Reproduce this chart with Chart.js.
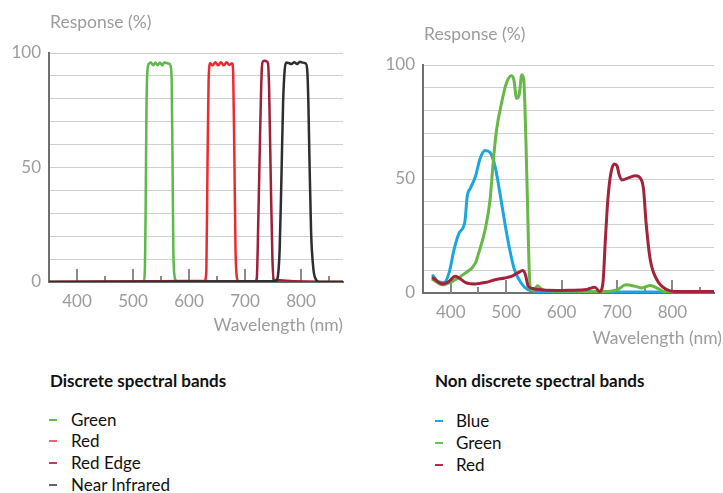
<!DOCTYPE html>
<html>
<head>
<meta charset="utf-8">
<script src="https://cdn.jsdelivr.net/npm/chart.js@4.4.1/dist/chart.umd.min.js"></script>
<style>
  html, body { margin: 0; padding: 0; background: #fff; }
  body { width: 723px; height: 493px; position: relative; overflow: hidden; font-family: Lato, "Open Sans", sans-serif; }
  canvas { position: absolute; top: 0; }
  #c1 { left: 0; }
  #c2 { left: 360px; }
  .axt { position: absolute; font-size: 17.5px; line-height: 20px; color: #9c9c9c; white-space: nowrap; }
  .lg { position: absolute; font-size: 17px; line-height: 20px; color: #111; white-space: nowrap; }
  .lgt { position: absolute; font-size: 17px; line-height: 20px; color: #111; font-weight: bold; white-space: nowrap; }
  .dash { position: absolute; width: 8px; height: 2px; }
</style>
</head>
<body>
<canvas id="c1" width="360" height="340"></canvas>
<canvas id="c2" width="363" height="350"></canvas>

<div class="axt" style="left:50px;top:12px;">Response (%)</div>
<div class="axt" style="left:424px;top:24px;">Response (%)</div>
<div class="axt" style="right:380px;top:315px;">Wavelength (nm)</div>
<div class="axt" style="right:1px;top:328px;">Wavelength (nm)</div>

<div class="lgt" style="left:50px;top:371px;">Discrete spectral bands</div>
<div class="dash" style="left:49px;top:419px;background:#5cbf4a;"></div>
<div class="lg" style="left:71px;top:410px;">Green</div>
<div class="dash" style="left:49px;top:440px;background:#f2646c;"></div>
<div class="lg" style="left:71px;top:431px;">Red</div>
<div class="dash" style="left:49px;top:462px;background:#b8405a;"></div>
<div class="lg" style="left:71px;top:453px;">Red Edge</div>
<div class="dash" style="left:49px;top:484px;background:#666;"></div>
<div class="lg" style="left:71px;top:475px;">Near Infrared</div>

<div class="lgt" style="left:435px;top:371px;">Non discrete spectral bands</div>
<div class="dash" style="left:435px;top:420px;background:#1aa6de;"></div>
<div class="lg" style="left:456px;top:411px;">Blue</div>
<div class="dash" style="left:435px;top:442px;background:#6cc155;"></div>
<div class="lg" style="left:456px;top:433px;">Green</div>
<div class="dash" style="left:435px;top:464px;background:#b03048;"></div>
<div class="lg" style="left:456px;top:455px;">Red</div>

<script>
// ---------- data ----------
const xTickLabels = [400, 500, 600, 700, 800];
const xMinorTicks = [450, 550, 650, 750, 850];
const yTickLabels = [0, 50, 100];

// Discrete bands (left)
const discGreenX = [350, 515, 519, 521, 522.5, 524, 526, 529, 532, 536, 540, 544, 548, 552, 556, 560, 564, 567, 569, 570.5, 572, 574, 577, 580, 875];
const discGreenY = [0, 0, 0.5, 4, 30, 75, 93, 95.5, 95.8, 94.6, 95.8, 94.6, 95.8, 94.6, 95.9, 95.6, 95.4, 94.5, 88, 55, 15, 3, 0.5, 0, 0];

const discRedX = [350, 628, 631, 633, 635, 638, 642, 647, 652, 657, 662, 667, 672, 677, 679, 681, 683, 685, 688, 875];
const discRedY = [0, 0.5, 5, 50, 88, 95.5, 94.6, 96, 94.6, 96, 94.6, 96, 94.8, 95.5, 90, 55, 15, 3, 0.3, 0];

const redEdgeX = [350, 718, 721, 724, 727, 730, 732, 735, 738, 741, 743, 746, 749, 751, 875];
const redEdgeY = [0, 0.3, 1.5, 30, 65, 93, 96.3, 96.6, 96.4, 95.5, 85, 45, 10, 1, 0];

const nirX = [350, 755, 759, 762, 765, 768, 771, 774, 778, 783, 788, 793, 798, 803, 808, 811, 813, 815, 818, 822, 827, 833, 875];
const nirY = [0, 0.3, 3, 15, 45, 78, 93, 95.8, 95.6, 95.2, 96, 95.2, 96.2, 95.8, 95.5, 93, 80, 55, 22, 6, 1, 0, 0];

// Non discrete bands (right)
const blueX = [368, 377, 388, 397, 406, 415, 425.6, 429.7, 435.6, 444.5, 453, 462, 471, 480, 488.8, 497.6, 506.5, 515, 527, 539, 555, 580, 620, 680, 740, 800];
const blueY = [7.6, 5, 4.6, 8.8, 19, 26.3, 31.4, 42.3, 46, 51, 59, 62.5, 61.6, 55.5, 43.8, 30.7, 19, 10.2, 4.4, 1.5, 0.8, 0.5, 0.4, 0.4, 0.4, 0.4];

const greenX = [368, 385.4, 403, 426.8, 444.5, 450.4, 462, 471, 477, 482.7, 491.6, 500.4, 509.3, 514, 518.8, 523.5, 528.2, 531.8, 535.8, 538.8, 541.8, 544.7, 550, 556.5, 565, 574, 620, 674, 701, 715.8, 733.5, 745, 760, 775, 786.5, 820, 875];
const greenY = [5.8, 3.6, 5.1, 8.8, 13.1, 17.5, 27.7, 40.9, 58.4, 71.5, 83.2, 92, 95.3, 93.4, 85.4, 86.9, 95.7, 93.4, 65.7, 36.5, 8.8, 1.5, 1.2, 3.2, 1.5, 1.0, 0.8, 0.6, 1.5, 3.6, 2.9, 2.2, 3.3, 1.8, 0.4, 0.3, 0.3];

const redX = [368, 385.4, 397, 408, 415, 427, 444.5, 462, 480, 497.6, 509.3, 521, 530, 534.8, 540, 550.7, 592, 615.6, 645, 660, 668.6, 674.6, 679, 683.5, 689, 695, 700, 704, 708.8, 721.7, 733.5, 744, 748, 752.5, 760, 772, 789.6, 804, 875];
const redY = [6.6, 3.9, 5.1, 7.3, 6.6, 4.6, 4, 4.6, 5.8, 6.6, 7.3, 8.8, 9.9, 8, 2.9, 1.8, 1.1, 1.2, 1.5, 2.5, 0.7, 4.4, 23.3, 41, 52.6, 56.6, 55.8, 51.8, 49.6, 50.6, 51.4, 49.6, 45.2, 30.7, 14.6, 5.8, 1.5, 0.7, 0.7];

// ---------- helpers ----------
const pts = (xs, ys) => xs.map((x, i) => ({ x: x, y: ys[i] }));

const tickMarks = {
  id: 'tickMarks',
  beforeDatasetsDraw(chart) {
    const ctx = chart.ctx, xs = chart.scales.x, bottom = chart.chartArea.bottom;
    ctx.save();
    ctx.strokeStyle = '#8a8a8a';
    ctx.lineWidth = 2;
    const draw = (v, len) => {
      const px = Math.round(xs.getPixelForValue(v));
      ctx.beginPath();
      ctx.moveTo(px, bottom);
      ctx.lineTo(px, bottom - len);
      ctx.stroke();
    };
    xTickLabels.forEach(v => draw(v, 13));
    xMinorTicks.forEach(v => draw(v, 6));
    ctx.restore();
  }
};

function makeOptions(yWidth, xHeight, pad) {
  const font = { family: 'Lato, "Open Sans", sans-serif', size: 17 };
  return {
    responsive: false,
    animation: false,
    devicePixelRatio: 1,
    layout: { padding: pad },
    plugins: { legend: { display: false }, tooltip: { enabled: false }, title: { display: false } },
    elements: { point: { radius: 0 }, line: { cubicInterpolationMode: 'monotone', borderCapStyle: 'round', borderJoinStyle: 'round' } },
    scales: {
      x: {
        type: 'linear', min: 350, max: 875,
        afterFit: s => { s.height = xHeight; },
        grid: { display: false, drawTicks: false },
        border: { display: true, color: '#6f6f6f', width: 2 },
        ticks: {
          stepSize: 50, autoSkip: false, maxRotation: 0, padding: 9,
          color: '#9c9c9c', font: font,
          callback: v => xTickLabels.includes(v) ? String(v) : ''
        }
      },
      y: {
        min: 0, max: 100,
        afterFit: s => { s.width = yWidth; },
        grid: { color: '#cfcfcf', lineWidth: 1, drawTicks: false },
        border: { display: true, color: '#6f6f6f', width: 2 },
        ticks: {
          stepSize: 10, autoSkip: false, padding: 8,
          color: '#9c9c9c', font: font,
          callback: v => yTickLabels.includes(v) ? String(v) : ''
        }
      }
    }
  };
}

const ds = (label, xs, ys, color, w) => ({ label, data: pts(xs, ys), borderColor: color, borderWidth: w, fill: false });

new Chart(document.getElementById('c1'), {
  type: 'line',
  data: {
    datasets: [
      ds('Near Infrared', nirX, nirY, '#2e2e2e', 2.5),
      ds('Red Edge', redEdgeX, redEdgeY, '#9e1f38', 2.5),
      ds('Red', discRedX, discRedY, '#ee2a2f', 2.5),
      ds('Green', discGreenX, discGreenY, '#5cb94a', 2.5)
    ]
  },
  options: makeOptions(49, 58, { left: 0, right: 17, top: 53, bottom: 0 }),
  plugins: [tickMarks]
});

new Chart(document.getElementById('c2'), {
  type: 'line',
  data: {
    datasets: [
      ds('Red', redX, redY, '#a3233a', 3),
      ds('Green', greenX, greenY, '#67b847', 3),
      ds('Blue', blueX, blueY, '#1ba6de', 3)
    ]
  },
  options: makeOptions(63, 57, { left: 0, right: 5, top: 65, bottom: 0 }),
  plugins: [tickMarks]
});
</script>
</body>
</html>
